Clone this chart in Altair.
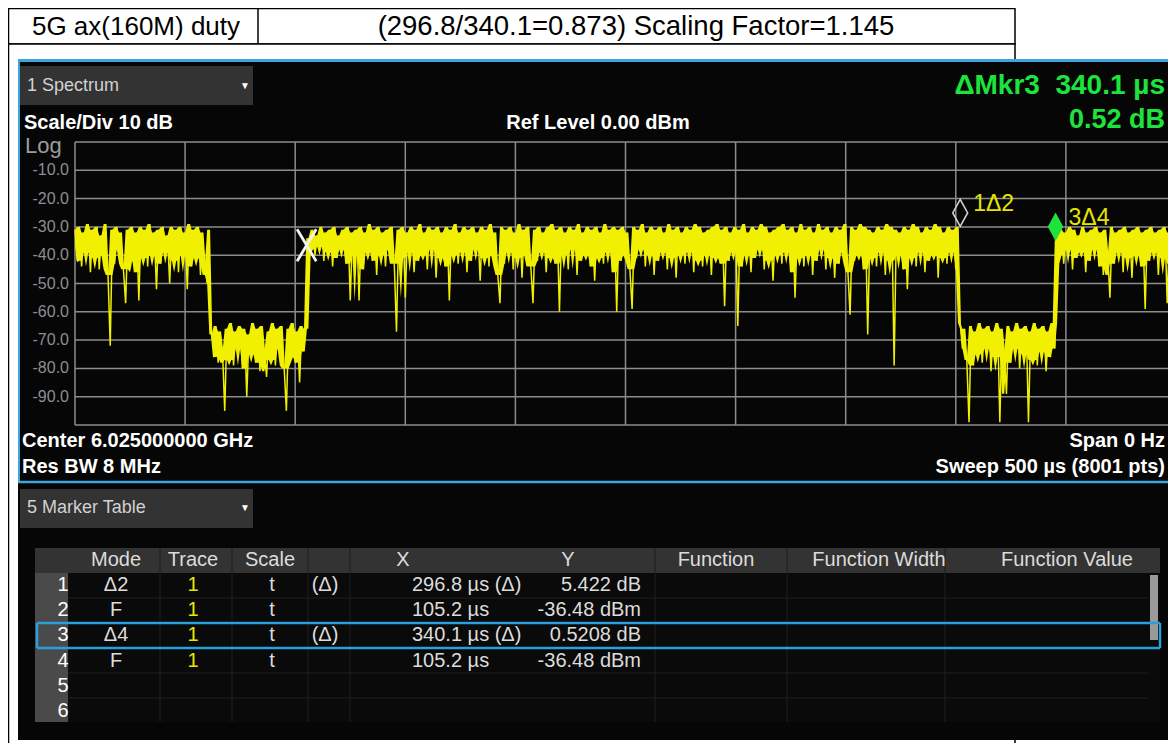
import altair as alt
import pandas as pd

# ---------------- data ----------------
HEADER_LEFT = "5G ax(160M) duty"
HEADER_RIGHT = "(296.8/340.1=0.873) Scaling Factor=1.145"

SWEEP_US = 500
STEP_US = 1.0

trace_dbm = [
    # 0 - 61 us : burst
    -31, -42, -30, -44, -32, -39, -29, -46, -31, -41,
    -30, -45, -33, -40, -29, -47, -72, -31, -43, -30,
    -38, -32, -45, -57, -31, -42, -30, -46, -32, -56,
    -30, -41, -31, -44, -29, -40, -32, -52, -31, -43,
    -30, -39, -33, -50, -30, -42, -31, -46, -30, -40,
    -32, -52, -29, -44, -31, -41, -30, -47, -32, -43,
    -50, -31,
    # 62 - 105 us : gap
    -68, -76, -65, -78, -67, -74, -95, -66, -77, -64,
    -79, -67, -73, -65, -80, -66, -90, -68, -75, -64,
    -78, -66, -81, -65, -74, -83, -67, -77, -64, -79,
    -66, -73, -65, -80, -95, -66, -76, -64, -78, -67,
    -85, -65, -74, -66,
    # 106 - 401 us : burst
    -34, -38, -31, -40, -33, -37, -30, -42, -32, -39,
    -31, -44, -30, -41, -33, -38, -31, -43, -30, -56,
    -32, -40, -31, -56, -30, -45, -32, -39, -29, -42,
    -31, -47, -30, -40, -32, -44, -31, -38, -30, -43,
    -67, -31, -41, -30, -55, -32, -39, -30, -46, -31,
    -42, -29, -40, -32, -45, -30, -38, -31, -48, -30,
    -41, -32, -44, -30, -56, -31, -40, -29, -43, -32,
    -39, -30, -46, -31, -42, -30, -38, -32, -49, -30,
    -41, -31, -44, -29, -40, -32, -47, -57, -30, -43,
    -31, -39, -30, -45, -32, -41, -29, -48, -31, -40,
    -30, -44, -57, -31, -42, -30, -39, -32, -46, -30,
    -41, -29, -43, -31, -60, -30, -40, -32, -45, -30,
    -38, -31, -47, -29, -42, -32, -40, -30, -44, -31,
    -49, -30, -41, -32, -43, -29, -39, -31, -46, -30,
    -60, -31, -42, -30, -40, -32, -45, -59, -30, -41,
    -31, -38, -29, -44, -32, -40, -30, -47, -31, -42,
    -30, -39, -32, -45, -29, -41, -31, -48, -30, -40,
    -32, -43, -30, -39, -31, -46, -29, -42, -30, -44,
    -32, -40, -31, -47, -30, -41, -29, -43, -31, -58,
    -30, -42, -32, -39, -30, -65, -31, -44, -29, -40,
    -32, -46, -30, -41, -31, -38, -29, -45, -30, -42,
    -32, -49, -31, -40, -30, -43, -29, -39, -31, -46,
    -30, -55, -32, -41, -29, -44, -31, -40, -30, -47,
    -32, -42, -29, -38, -31, -45, -30, -41, -32, -48,
    -30, -43, -31, -39, -29, -46, -61, -30, -42, -31,
    -40, -29, -45, -30, -68, -31, -41, -32, -44, -30,
    -39, -31, -47, -29, -42, -30, -79, -31, -40, -32,
    -45, -30, -52, -31, -41, -29, -44, -30, -39, -32,
    -46, -30, -42, -31, -40, -29, -48, -30, -41, -32,
    -43, -30, -39, -31, -45, -30,
    # 402 - 445 us : gap
    -64, -73, -66, -77, -99, -65, -79, -67, -75, -64,
    -78, -66, -73, -65, -81, -67, -76, -64, -99, -66,
    -74, -89, -65, -78, -67, -73, -64, -80, -66, -75,
    -65, -99, -67, -77, -64, -79, -66, -74, -65, -81,
    -67, -76, -64, -73,
    # 446 - 500 us : burst
    -33, -40, -31, -43, -32, -38, -30, -45, -31, -41,
    -33, -39, -30, -46, -32, -42, -31, -38, -30, -44,
    -32, -47, -31, -40, -55, -30, -43, -32, -39, -31,
    -46, -30, -41, -32, -48, -31, -40, -30, -44, -32,
    -59, -31, -42, -30, -39, -32, -47, -31, -41, -30,
    -57, -32, -43, -31, -40,
]

GRID_X_US = [0, 50, 100, 150, 200, 250, 300, 350, 400, 450, 500]
GRID_Y_DBM = [0, -10, -20, -30, -40, -50, -60, -70, -80, -90, -100]
LABEL_Y_DBM = [-10, -20, -30, -40, -50, -60, -70, -80, -90]

marker_id = ["1", "2", "3", "4"]
marker_x_us = [402.0, 105.2, 445.3, 105.2]
marker_y_dbm = [-31.06, -36.48, -35.96, -36.48]
marker_label = ["1Δ2", "", "3Δ4", ""]

table_headers = ["Mode", "Trace", "Scale", "X", "Y", "Function", "Function Width", "Function Value"]
table_rows = ["1", "2", "3", "4", "5", "6"]
col_mode = ["Δ2", "F", "Δ4", "F", "", ""]
col_trace = ["1", "1", "1", "1", "", ""]
col_scale = ["t", "t", "t", "t", "", ""]
col_rel = ["(Δ)", "", "(Δ)", "", "", ""]
col_x = ["296.8 µs (Δ)", "105.2 µs", "340.1 µs (Δ)", "105.2 µs", "", ""]
col_y = ["5.422 dB", "-36.48 dBm", "0.5208 dB", "-36.48 dBm", "", ""]

# ---------------- layout / style ----------------
FONT = "Liberation Sans"
OX, OY = 75, 142          # plot origin on the page (px)
W, H = 1093, 283          # visible plot area
XMAX = SWEEP_US * W / 1101.0
BLUE = "#3ea6de"
GRID = "#8c8c8c"
YELLOW = "#f0f000"
GREEN = "#1de43c"


def rx(X):
    return X - OX


def ry(Y):
    return Y - OY


xs = alt.Scale(domain=[0, XMAX], nice=False, zero=False)
ys = alt.Scale(domain=[-100, 0], nice=False, zero=False)

# rectangles (page coords): x1, x2, y1, y2, fill, stroke, stroke width
rect_spec = [
    (8.5, 1015, 8.5, 44, "#ffffff", "#000000", 1.5),
    (8.5, 1015, 44, 800, "#ffffff", "#000000", 1.5),
    (18, 1200, 59, 740, "#060606", "transparent", 0),
    (20, 253, 66, 105, "#333333", "transparent", 0),
    (20, 253, 489, 528, "#333333", "transparent", 0),
    (35, 1160, 548, 573, "#333333", "transparent", 0),
    (35, 1160, 573, 722, "#0a0a0a", "transparent", 0),
    (35, 68, 573, 722, "#4a4a4a", "transparent", 0),
    (1150, 1158, 575, 640, "#9a9a9a", "transparent", 0),
]
rects = pd.DataFrame(
    [dict(x=rx(a), x2=rx(b), y=ry(c), y2=ry(d), fill=f, stroke=s, sw=w) for a, b, c, d, f, s, w in rect_spec]
).reset_index()

line_spec = [
    (258, 258, 8, 44, "#000000", 1.5),
    (18, 1200, 60.5, 60.5, BLUE, 3),
    (19, 19, 59, 482, BLUE, 2),
    (18, 1200, 482, 482, BLUE, 2.5),
]
for yy in [598, 623, 648, 673, 698]:
    line_spec.append((68, 1148, yy, yy, "#1f1f1f", 1))
for xx in [160, 232, 308, 350, 655, 787, 945]:
    line_spec.append((xx, xx, 548, 722, "#1f1f1f", 1))
line_spec.append((37, 1160, 623, 623, "#2a9fdc", 2.5))
line_spec.append((37, 1160, 648, 648, "#2a9fdc", 2.5))
line_spec.append((37, 37, 623, 648, "#2a9fdc", 2.5))
line_spec.append((1160, 1160, 623, 648, "#2a9fdc", 2.5))
lines = pd.DataFrame(
    [dict(x=rx(a), x2=rx(b), y=ry(c), y2=ry(d), color=col, sw=w) for a, b, c, d, col, w in line_spec]
).reset_index()

rect_layer = alt.Chart(rects).mark_rect().encode(
    x=alt.X("x:Q", scale=None, axis=None), x2="x2:Q",
    y=alt.Y("y:Q", scale=None, axis=None), y2="y2:Q",
    fill=alt.Fill("fill:N", scale=None), stroke=alt.Stroke("stroke:N", scale=None),
    strokeWidth=alt.StrokeWidth("sw:Q", scale=None), order="index:Q",
)
line_layer = alt.Chart(lines).mark_rule().encode(
    x=alt.X("x:Q", scale=None, axis=None), x2="x2:Q",
    y=alt.Y("y:Q", scale=None, axis=None), y2="y2:Q",
    color=alt.Color("color:N", scale=None), strokeWidth=alt.StrokeWidth("sw:Q", scale=None),
)

# grid
vgrid = alt.Chart(pd.DataFrame({"t": GRID_X_US})).mark_rule(color=GRID, strokeWidth=1.5).encode(
    x=alt.X("t:Q", scale=xs, axis=None), y=alt.value(0), y2=alt.value(H))
hgrid = alt.Chart(pd.DataFrame({"v": GRID_Y_DBM})).mark_rule(color=GRID, strokeWidth=1.5).encode(
    y=alt.Y("v:Q", scale=ys, axis=None), x=alt.value(0), x2=alt.value(1101))
ylabels = alt.Chart(pd.DataFrame({"v": LABEL_Y_DBM})).transform_calculate(
    lbl="'-' + format(-datum.v, '.1f')"
).mark_text(align="right", baseline="middle", font=FONT, fontSize=16, color="#8e8e8e").encode(
    y=alt.Y("v:Q", scale=ys, axis=None), x=alt.value(-6), text="lbl:N")

# trace: solid body (per-column envelope) + the raw sample line on top
trace_df = pd.DataFrame({"t": [i * STEP_US for i in range(len(trace_dbm))], "dbm": trace_dbm})
tenc = dict(x=alt.X("t:Q", scale=xs, axis=None))
trace_body = alt.Chart(trace_df).transform_window(
    hi="max(dbm)", frame=[0, 1], sort=[alt.SortField("t")]
).transform_window(
    lo="q1(dbm)", frame=[-2, 2], sort=[alt.SortField("t")]
).mark_area(color=YELLOW, opacity=1).encode(
    y=alt.Y("hi:Q", scale=ys, axis=None), y2="lo:Q", **tenc)
trace = alt.Chart(trace_df).mark_line(color=YELLOW, strokeWidth=1.5).encode(
    y=alt.Y("dbm:Q", scale=ys, axis=None), **tenc)

# markers
mk = pd.DataFrame({"id": marker_id, "t": marker_x_us, "dbm": marker_y_dbm, "label": marker_label})
X_PATH = "M-0.6,-1L0.6,1M0.6,-1L-0.6,1"
DIAMOND = "M0,-1L0.55,0L0,1L-0.55,0Z"
menc = dict(x=alt.X("t:Q", scale=xs, axis=None), y=alt.Y("dbm:Q", scale=ys, axis=None))
mk_x = alt.Chart(mk).transform_filter("datum.id == '2'").mark_point(
    shape=X_PATH, filled=False, color="#f2f2f2", size=1024, strokeWidth=2.8, opacity=1).encode(**menc)
mk_1 = alt.Chart(mk).transform_filter("datum.id == '1'").mark_point(
    shape=DIAMOND, filled=False, color="#d0d0d0", size=729, strokeWidth=1.6, opacity=1, yOffset=-17).encode(**menc)
mk_3 = alt.Chart(mk).transform_filter("datum.id == '3'").mark_point(
    shape=DIAMOND, filled=True, color=GREEN, size=800, opacity=1, yOffset=-17).encode(**menc)
mk_lab = alt.Chart(mk).transform_filter("datum.label != ''").mark_text(
    align="left", baseline="middle", dx=13, dy=-26, font=FONT, fontSize=23, color="#e5e500").encode(
    text="label:N", **menc)

# free texts (page coords)
text_spec = [
    (HEADER_LEFT, 136, 27, 26, "#000000", "center", "normal"),
    (HEADER_RIGHT, 636, 27, 27.5, "#000000", "center", "normal"),
    ("1 Spectrum", 27, 86, 18, "#d2d2d2", "left", "normal"),
    ("▼", 245, 86, 10, "#ffffff", "center", "normal"),
    ("5 Marker Table", 27, 508, 18, "#d2d2d2", "left", "normal"),
    ("▼", 245, 508, 10, "#ffffff", "center", "normal"),
    ("Scale/Div 10 dB", 24, 123, 20, "#ffffff", "left", "bold"),
    ("Ref Level 0.00 dBm", 598, 123, 20, "#ffffff", "center", "bold"),
    ("Log", 25, 146, 22, "#9c9c9c", "left", "normal"),
    ("ΔMkr3\u00a0\u00a0340.1 µs", 1165, 86, 28, GREEN, "right", "bold"),
    ("0.52 dB", 1165, 120, 27, GREEN, "right", "bold"),
    ("Center 6.025000000 GHz", 22, 441, 20, "#ffffff", "left", "bold"),
    ("Res BW 8 MHz", 22, 467, 20, "#ffffff", "left", "bold"),
    ("Span 0 Hz", 1165, 441, 20, "#ffffff", "right", "bold"),
    ("Sweep 500 µs (8001 pts)", 1165, 467, 20, "#ffffff", "right", "bold"),
]

# marker table cells
TXT = "#dcdcdc"
HEAD_X = {"Mode": 116, "Trace": 193, "Scale": 270, "X": 403, "Y": 568,
          "Function": 716, "Function Width": 879, "Function Value": 1067}
for h in table_headers:
    text_spec.append((h, HEAD_X[h], 560, 20, TXT, "center", "normal"))
for i in range(len(table_rows)):
    yy = 585 + 25.2 * i
    text_spec.append((table_rows[i], 63, yy, 20, "#ffffff", "center", "normal"))
    text_spec.append((col_mode[i], 116, yy, 20, TXT, "center", "normal"))
    text_spec.append((col_trace[i], 193, yy, 20, "#e8e800", "center", "normal"))
    text_spec.append((col_scale[i], 272, yy, 20, TXT, "center", "normal"))
    text_spec.append((col_rel[i], 325, yy, 20, TXT, "center", "normal"))
    text_spec.append((col_x[i], 412, yy, 20, TXT, "left", "normal"))
    text_spec.append((col_y[i], 641, yy, 20, TXT, "right", "normal"))

texts = pd.DataFrame([dict(text=t, x=rx(a), y=ry(b), size=s, color=c, align=al, weight=wt)
                      for t, a, b, s, c, al, wt in text_spec])
text_layers = []
for (al, wt), grp in texts.groupby(["align", "weight"]):
    text_layers.append(
        alt.Chart(grp.reset_index(drop=True)).mark_text(
            align=al, baseline="middle", font=FONT, fontWeight=wt).encode(
            x=alt.X("x:Q", scale=None, axis=None), y=alt.Y("y:Q", scale=None, axis=None),
            text="text:N", size=alt.Size("size:Q", scale=None), color=alt.Color("color:N", scale=None))
    )

chart = alt.layer(
    rect_layer, line_layer, vgrid, hgrid, ylabels, trace_body, trace, mk_x, mk_1, mk_3, mk_lab, *text_layers
).resolve_scale(x="independent", y="independent").properties(
    width=W, height=H,
    autosize=alt.AutoSizeParams(type="none"),
    padding={"left": 67, "top": 134, "right": 0, "bottom": 318},
    background="#ffffff",
).configure_view(stroke=None)

chart.save("out.html", embed_options={"renderer": "svg", "actions": False})
